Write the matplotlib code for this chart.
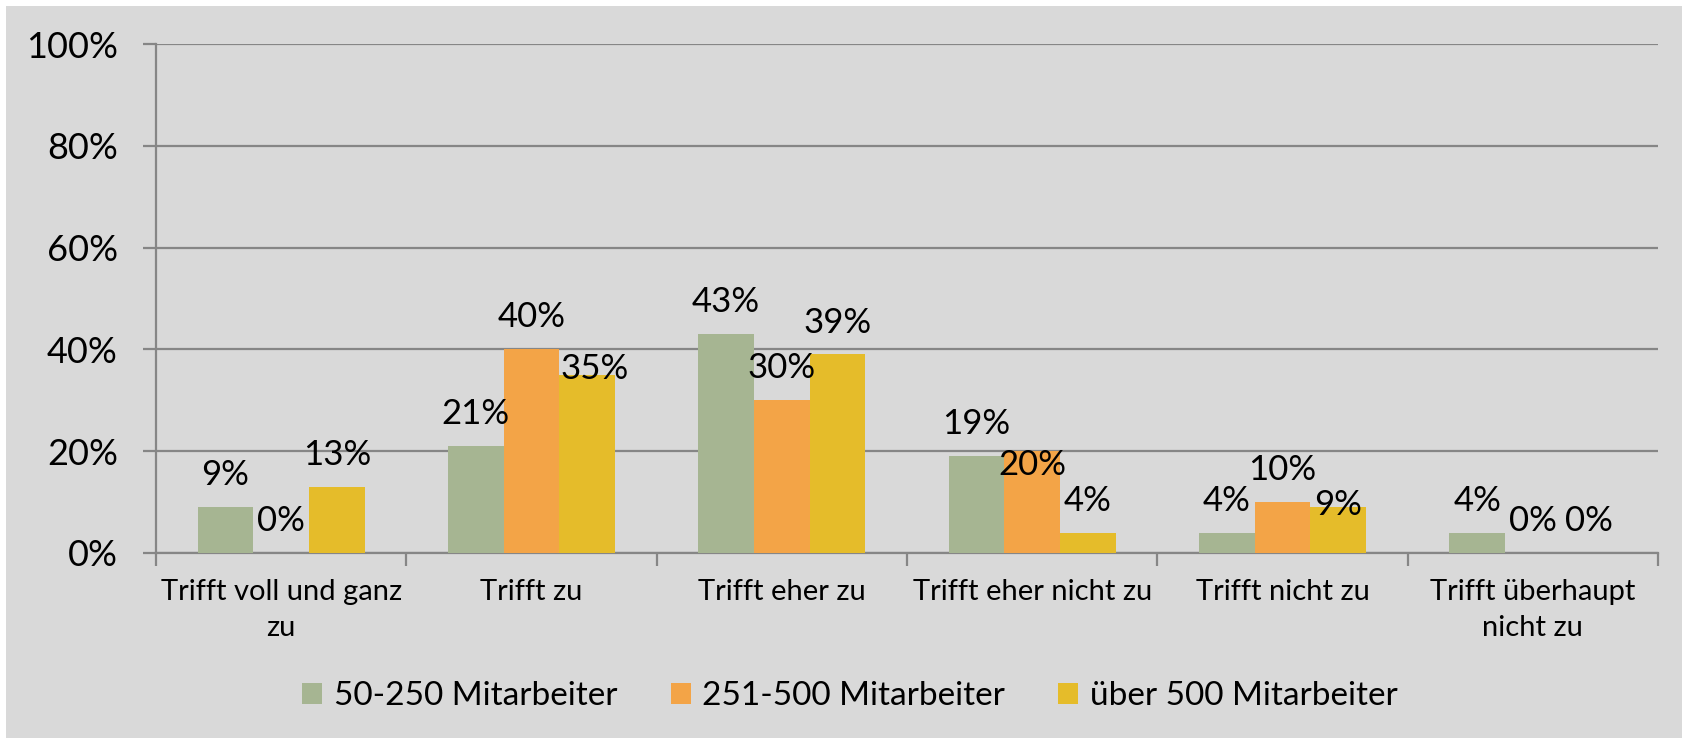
import numpy as np
import matplotlib
matplotlib.use("Agg")
import matplotlib.pyplot as plt
from matplotlib.patches import Rectangle

categories = ["Trifft voll und ganz\nzu", "Trifft zu", "Trifft eher zu",
              "Trifft eher nicht zu", "Trifft nicht zu", "Trifft überhaupt\nnicht zu"]
series_names = ["50-250 Mitarbeiter", "251-500 Mitarbeiter", "über 500 Mitarbeiter"]
small = [9, 21, 43, 19, 4, 4]
medium = [0, 40, 30, 20, 10, 0]
large = [13, 35, 39, 4, 9, 0]
yticks = [0, 20, 40, 60, 80, 100]

colors = ["#a6b592", "#f3a447", "#e5bc2a"]
bg = "#d9d9d9"
grid_c = "#868686"

# labels that were nudged by hand in the original (series, category) -> (dx, dy) points
label_nudge = {(2, 1): (5.5, -2.9), (1, 3): (0, -17.3), (2, 4): (0, -5.8)}

plt.rcParams["font.family"] = ["Lato", "DejaVu Sans"]

W, H = 1683, 738
fig = plt.figure(figsize=(W / 100, H / 100), dpi=100, facecolor="white")
# grey chart area with thin white strip on top and left
fig.patches.append(Rectangle((6 / W, 0), 1, (H - 6) / H, transform=fig.transFigure,
                             facecolor=bg, edgecolor="none", zorder=-10))

ax = fig.add_axes([156 / W, (H - 553) / H, (1658 - 156) / W, (553 - 44) / H])
ax.set_facecolor(bg)

x = np.arange(len(categories))
bw = 1 / 4.5
for i, (vals, name) in enumerate(zip([small, medium, large], series_names)):
    pos = x + (i - 1) * bw
    ax.bar(pos, vals, width=bw, color=colors[i], label=name, zorder=3)
    for j, (xp, v) in enumerate(zip(pos, vals)):
        dx, dy = label_nudge.get((i, j), (0, 15.8))
        ax.annotate(f"{v}%", (xp, v), xytext=(dx, dy), textcoords="offset points",
                    ha="center", va="baseline", fontsize=25, color="black", zorder=4)

ax.set_xlim(-0.5, len(categories) - 0.5)
ax.set_ylim(0, 100)
ax.set_yticks(yticks)
ax.set_yticklabels([f"{t}%" for t in yticks], fontsize=26)
ax.yaxis.grid(True, color=grid_c, linewidth=1.6, zorder=1)
ax.tick_params(axis="y", length=9.5, width=1.6, color=grid_c, pad=18)

ax.set_xticks(x)
ax.set_xticklabels(categories, fontsize=21, linespacing=1.45)
ax.set_xticks(np.arange(-0.5, len(categories)), minor=True)
ax.tick_params(axis="x", which="major", length=0, pad=19)
ax.tick_params(axis="x", which="minor", length=9, width=1.6, color=grid_c)

for s in ["top", "right"]:
    ax.spines[s].set_visible(False)
for s in ["left", "bottom"]:
    ax.spines[s].set_color(grid_c)
    ax.spines[s].set_linewidth(1.6)
    ax.spines[s].set_zorder(2)

fig.legend(loc="center", bbox_to_anchor=(850 / W, (H - 696) / H), ncol=3, frameon=False,
           fontsize=24, handlelength=0.6, handleheight=0.6, handletextpad=0.35,
           columnspacing=1.6)

fig.savefig("out.png", dpi=100, facecolor=fig.get_facecolor())
